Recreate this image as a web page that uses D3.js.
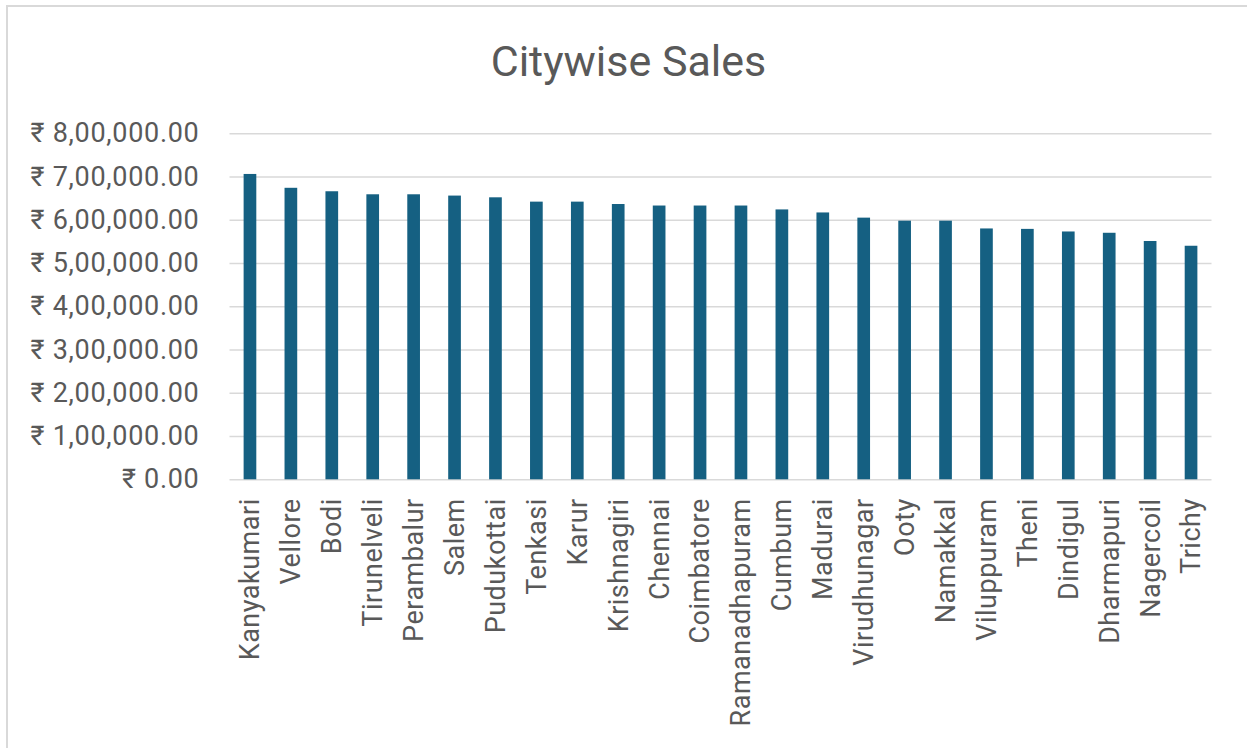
<!DOCTYPE html>
<html>
<head>
<meta charset="utf-8">
<script src="https://cdn.jsdelivr.net/npm/d3@7"></script>
<style>
  html, body { margin: 0; padding: 0; background: #ffffff; }
  svg { display: block; }
  text { font-family: Roboto, "Noto Sans", "DejaVu Sans", sans-serif; fill: #595959; }
</style>
</head>
<body>
<svg id="chart" width="1247" height="748"></svg>
<script>
// City-wise sales totals (₹)
const cities = [
  "Kanyakumari", "Vellore", "Bodi", "Tirunelveli", "Perambalur", "Salem",
  "Pudukottai", "Tenkasi", "Karur", "Krishnagiri", "Chennai", "Coimbatore",
  "Ramanadhapuram", "Cumbum", "Madurai", "Virudhunagar", "Ooty", "Namakkal",
  "Viluppuram", "Theni", "Dindigul", "Dharmapuri", "Nagercoil", "Trichy"
];
const sales = [
  706000, 674000, 666000, 659000, 659000, 656000,
  652000, 642000, 642000, 636500, 633000, 633000,
  633000, 624000, 617000, 605000, 598000, 598000,
  580000, 579000, 573000, 570000, 551000, 540000
];
const yTicks = [0, 100000, 200000, 300000, 400000, 500000, 600000, 700000, 800000];
const chartTitle = "Citywise Sales";

// Indian-style grouping: 8,00,000.00
function inr(v) {
  const [intPart, dec] = v.toFixed(2).split(".");
  let s = intPart;
  if (s.length > 3) {
    const last3 = s.slice(-3);
    let rest = s.slice(0, -3);
    rest = rest.replace(/\B(?=(\d{2})+(?!\d))/g, ",");
    s = rest + "," + last3;
  }
  return "₹ " + s + "." + dec;
}

const svg = d3.select("#chart");

// outer chart frame
svg.append("rect")
  .attr("x", 7).attr("y", 6)
  .attr("width", 1300).attr("height", 800)
  .attr("fill", "none")
  .attr("stroke", "#d9d9d9")
  .attr("stroke-width", 2);

const plot = { left: 229.5, right: 1211.5, top: 133.3, bottom: 479.3 };

const x = d3.scaleBand()
  .domain(cities)
  .range([plot.left, plot.right])
  .paddingInner(0.69)
  .paddingOuter(0.345);

const y = d3.scaleLinear()
  .domain([0, 800000])
  .range([plot.bottom, plot.top]);

// title
svg.append("text")
  .attr("x", 628.5)
  .attr("y", 76)
  .attr("text-anchor", "middle")
  .style("font-size", "43px")
  .text(chartTitle);

// gridlines + y labels
const yAxis = d3.axisLeft(y)
  .tickValues(yTicks)
  .tickSize(-(plot.right - plot.left))
  .tickPadding(30)
  .tickFormat(inr);

const gy = svg.append("g")
  .attr("transform", `translate(${plot.left},0)`)
  .call(yAxis);
gy.select(".domain").remove();
gy.selectAll(".tick line")
  .attr("stroke", "#d9d9d9")
  .attr("stroke-width", 1.5);
gy.selectAll(".tick text")
  .attr("fill", "#595959")
  .style("font-size", "27px")
  .style("letter-spacing", "0.7px")
  .style("font-family", "Roboto, 'Noto Sans', 'DejaVu Sans', sans-serif");

// bars
svg.append("g")
  .selectAll("rect")
  .data(cities.map((c, i) => ({ city: c, value: sales[i] })))
  .join("rect")
  .attr("x", d => x(d.city))
  .attr("width", x.bandwidth())
  .attr("y", d => y(d.value))
  .attr("height", d => y(0) - y(d.value))
  .attr("fill", "#156082");

// category labels
const xAxis = d3.axisBottom(x).tickSize(0).tickPadding(0);
const gx = svg.append("g")
  .attr("transform", `translate(0,${plot.bottom})`)
  .call(xAxis);
gx.select(".domain").remove();
gx.selectAll(".tick text")
  .attr("fill", "#595959")
  .style("font-size", "27px")
  .style("letter-spacing", "0.5px")
  .style("font-family", "Roboto, 'Noto Sans', 'DejaVu Sans', sans-serif")
  .attr("text-anchor", "end")
  .attr("transform", "rotate(-90)")
  .attr("x", -19)
  .attr("y", 0)
  .attr("dy", "0.35em");
</script>
</body>
</html>
